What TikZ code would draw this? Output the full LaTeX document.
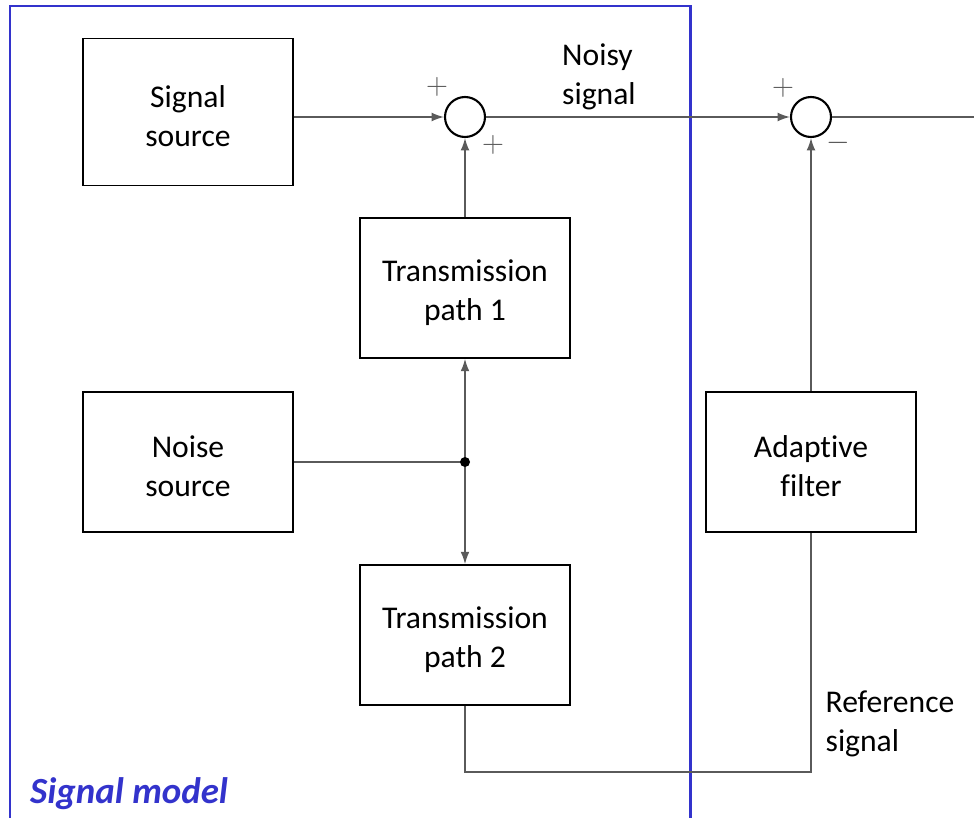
\documentclass[tikz,border=0pt]{standalone}
\usepackage{fontspec}
\setmainfont{Carlito}[Ligatures=CommonOff,Contextuals=AlternateOff]
\usetikzlibrary{arrows.meta}
\definecolor{modelblue}{RGB}{51,51,204}
\definecolor{wiregray}{RGB}{90,90,90}
\newcommand{\topstrut}{\rule{0pt}{17.5pt}}

\begin{document}
\begin{tikzpicture}[x=0.02cm,y=-0.02cm,
  block/.style={draw,line width=1pt,minimum width=4.2cm,minimum height=2.8cm,
    align=center,font=\fontsize{18}{22}\selectfont},
  sumnode/.style={draw,line width=1.2pt,circle,minimum size=0.8cm,inner sep=0pt},
  wire/.style={draw=wiregray,line width=0.8pt},
  sign/.style={text=wiregray,font=\fontsize{16}{16}\selectfont,inner sep=0pt},
  caption/.style={align=left,font=\fontsize{18}{22}\selectfont}]
\useasboundingbox (0,0) rectangle (974,818);
% signal model frame
\draw[modelblue,line width=1.7pt] (10,818) -- (10,6) -- (690,6) -- (690,818);
\node[text=modelblue,font=\fontsize{21}{24}\selectfont\bfseries\itshape,anchor=west] (model) at (24,794) {Signal model};

% blocks
\node[block,minimum height=2.94cm] (src) at (188,112) {\topstrut Signal\\source};
\node[block] (tp1) at (465,288) {\topstrut Transmission\\path 1};
\node[block] (noise) at (188,462) {\topstrut Noise\\source};
\node[block] (tp2) at (465,635) {\topstrut Transmission\\path 2};
\node[block] (filt) at (811,462) {\topstrut Adaptive\\filter};

% summing junctions
\node[sumnode] (sum1) at (465,117) {};
\node[sumnode] (sum2) at (811,117) {};
\node[sign] (p1) at (437,87) {$+$};
\node[sign] (p2) at (493,145) {$+$};
\node[sign] (p3) at (783,88) {$+$};
\node[sign] (m1) at (838,143) {$-$};

\coordinate (split) at (465,462);
\coordinate (c1) at (465,772);
\coordinate (c2) at (811,772);
\coordinate (out) at (974,117);

% connectors
\draw[wire,-{Latex[length=7pt,width=5pt]}] (src.east |- sum1) -- (sum1.west);
\draw[wire,-{Latex[length=7pt,width=5pt]}] (sum1.east) -- (sum2.west);
\draw[wire] (sum2.east) -- (out);
\draw[wire,-{Latex[length=7pt,width=5pt]}] (tp1.north) -- (sum1.south);
\draw[wire] (noise.east) -- (split);
\draw[wire,-{Latex[length=7pt,width=5pt]}] (split) -- (tp1.south);
\draw[wire,-{Latex[length=7pt,width=5pt]}] (split) -- (tp2.north);
\fill (split) circle (0.1cm);
\draw[wire] (tp2.south) -- (c1) -- (c2) -- (filt.south);
\draw[wire,-{Latex[length=7pt,width=5pt]}] (filt.north) -- (sum2.south);

% signal labels
\node[caption] (noisy) at (599,77) {Noisy\\signal};
\node[caption] (ref) at (890,724) {Reference\\signal};
\end{tikzpicture}
\end{document}
